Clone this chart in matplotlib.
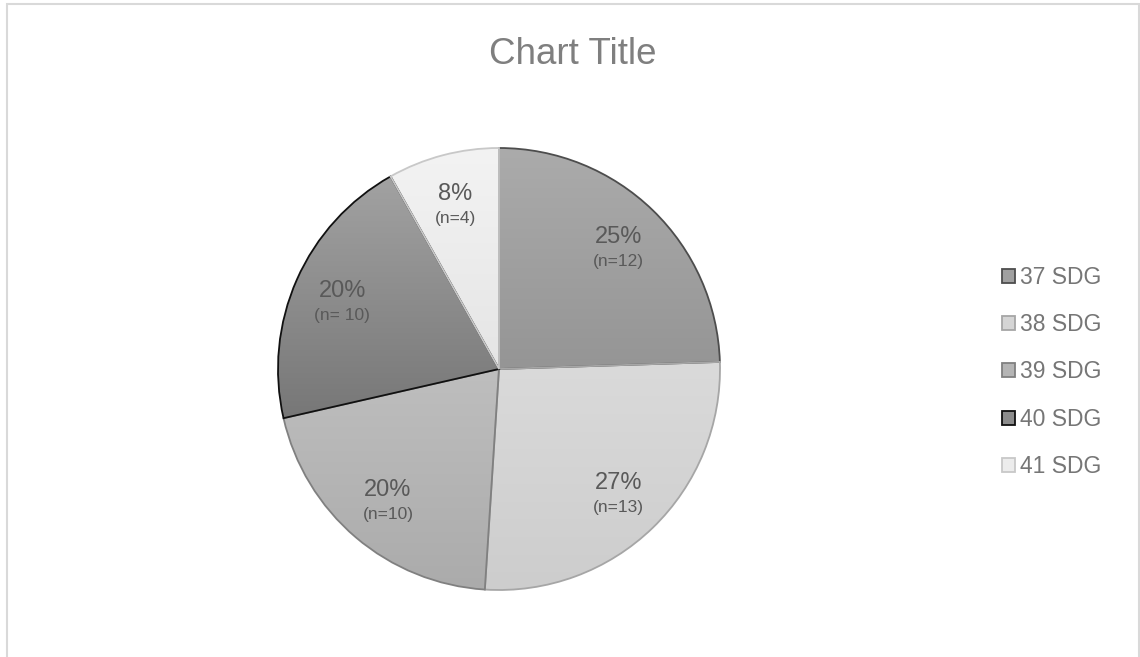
import numpy as np
import matplotlib.pyplot as plt
from matplotlib.colors import to_rgb
from matplotlib.patches import Patch, Rectangle

plt.rcParams['font.family'] = ['Liberation Sans', 'DejaVu Sans']

categories = ['37 SDG', '38 SDG', '39 SDG', '40 SDG', '41 SDG']
counts = [12, 13, 10, 10, 4]
pct_labels = ['25%', '27%', '20%', '20%', '8%']
n_labels = ['(n=12)', '(n=13)', '(n=10)', '(n= 10)', '(n=4)']

# vertical gradient per slice: (top, bottom, edge)
grad_top = ['#ababab', '#dadada', '#bebebe', '#a2a2a2', '#f3f3f3']
grad_bottom = ['#959595', '#cdcdcd', '#ababab', '#777777', '#e5e5e5']
edges = ['#4d4d4d', '#a6a6a6', '#808080', '#111111', '#c8c8c8']
legend_fill = ['#a0a0a0', '#d5d5d5', '#b5b5b5', '#8c8c8c', '#ececec']

W, H = 1140, 657
cx, cy, r = 499, H - 369, 221

fig = plt.figure(figsize=(W / 100, H / 100), dpi=100)
ax = fig.add_axes([0, 0, 1, 1])

wedges, _ = ax.pie(counts, startangle=90, counterclock=False, radius=r,
                   center=(cx, cy),
                   wedgeprops=dict(linewidth=1.3, zorder=3))

for w, top, bot, ec in zip(wedges, grad_top, grad_bottom, edges):
    w.set_facecolor('none')
    w.set_edgecolor(ec)
    bb = w.get_path().get_extents()
    t = np.linspace(0, 1, 256)[:, None]
    c0, c1 = np.array(to_rgb(top)), np.array(to_rgb(bot))
    img = (c1 * (1 - t) + c0 * t)[:, None, :]  # bottom row first (origin lower)
    im = ax.imshow(img, extent=(bb.x0, bb.x1, bb.y0, bb.y1), origin='lower',
                   aspect='auto', zorder=2, interpolation='bilinear')
    im.set_clip_path(w)

# two-line label inside each slice
for w, pl, nl in zip(wedges, pct_labels, n_labels):
    mid = np.deg2rad((w.theta1 + w.theta2) / 2)
    lx = cx + 0.775 * r * np.cos(mid)
    ly = cy + 0.775 * r * np.sin(mid)
    ax.text(lx, ly + 3, pl, ha='center', va='baseline', fontsize=17,
            color='#595959', zorder=4)
    ax.text(lx, ly - 20, nl, ha='center', va='baseline', fontsize=12.5,
            color='#595959', zorder=4)

ax.text(573, H - 64, 'Chart Title', ha='center', va='baseline', fontsize=26.5,
        color='#7f7f7f')

handles = [Patch(facecolor=f, edgecolor=e, linewidth=1.3)
           for f, e in zip(legend_fill, edges)]
leg = ax.legend(handles, categories, loc='center left',
                bbox_to_anchor=(1002, H - 372), bbox_transform=ax.transData,
                frameon=False, fontsize=16.5, handlelength=0.55,
                handleheight=0.55, handletextpad=0.25, labelspacing=1.06,
                borderpad=0, borderaxespad=0)
for txt in leg.get_texts():
    txt.set_color('#767676')

# chart area border (runs off the bottom edge)
ax.add_patch(Rectangle((7, -10), 1132, H - 4 + 10, fill=False,
                       edgecolor='#d9d9d9', linewidth=1.5, zorder=5))

ax.set_xlim(0, W)
ax.set_ylim(0, H)
ax.set_aspect('equal')
ax.set_axis_off()

fig.savefig('out.png', dpi=100, facecolor='white')
